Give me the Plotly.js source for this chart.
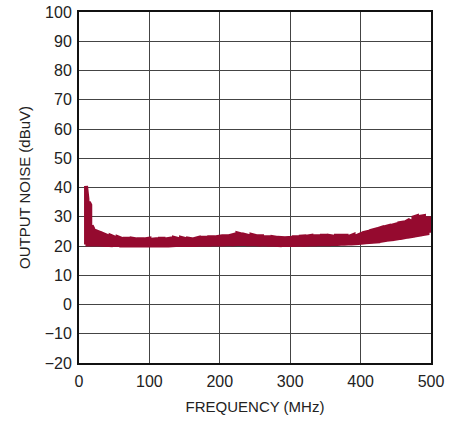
<!DOCTYPE html>
<html>
<head>
<meta charset="utf-8">
<script src="https://cdn.plot.ly/plotly-3.0.1.min.js"></script>
<style>
html,body{margin:0;padding:0;background:#fff;}
#chart{width:463px;height:421px;}
</style>
</head>
<body>
<div id="chart"></div>
<script>
// Frequency (MHz)
var freq = [10,12,14,16,18,20,25,30,35,40,45,50,55,60,65,70,75,80,85,90,95,100,105,110,115,120,125,130,135,140,145,150,155,160,165,170,175,180,185,190,195,200,205,210,215,220,225,230,235,240,245,250,255,260,265,270,275,280,285,290,295,300,305,310,315,320,325,330,335,340,345,350,355,360,365,370,375,380,385,390,395,400,405,410,415,420,425,430,435,440,445,450,455,460,465,470,475,480,485,490,495,500];
// Noise envelope, low and high (dBuV)
var noiseLow = [20.5,20.5,20.5,20.5,20.5,20.5,20.5,20.5,20.4,20.4,20.3,20.3,20.3,20.2,20.2,20.2,20.2,20.2,20.2,20.2,20.2,20.2,20.2,20.2,20.2,20.2,20.2,20.2,20.3,20.3,20.3,20.3,20.3,20.3,20.3,20.4,20.4,20.4,20.4,20.5,20.5,20.5,20.5,20.6,20.6,20.6,20.7,20.7,20.7,20.6,20.6,20.6,20.5,20.5,20.5,20.4,20.4,20.4,20.3,20.3,20.3,20.3,20.3,20.4,20.4,20.4,20.5,20.5,20.5,20.6,20.6,20.6,20.6,20.7,20.7,20.7,20.8,20.8,20.9,20.9,21.0,21.1,21.2,21.3,21.4,21.5,21.6,21.8,22.0,22.2,22.3,22.5,22.7,22.9,23.1,23.3,23.5,23.7,23.9,24.1,24.3,24.5];
var noiseHigh = [40.5,36,35,34,27,26,25,24.5,24,23.5,23.5,23,23,22.5,22.5,22.5,22.5,22.3,22.3,22.3,22.3,22.5,22.2,22.3,22.5,22.5,22.3,22.5,22.8,22.5,22.8,22.5,22.5,22.3,22.5,22.8,22.8,22.8,23,23,23,23.2,23.3,23.3,23.5,23.8,24.3,24,23.8,23.5,23.8,23.5,23.3,23.3,23,23,23,22.8,22.8,22.7,22.7,22.8,23,23,23.2,23.3,23.3,23.5,23.3,23.3,23.5,23.5,23.5,23.3,23.5,23.5,23.5,23.5,23.3,23.8,23.5,24,24.5,24.8,25.2,25.5,25.8,26.2,26.5,26.8,27,27.3,27.8,28,28.3,29,29.8,30.2,30,30.2,29.5,29.5];
var xTicks = [0,100,200,300,400,500];
var yTicks = [-20,-10,0,10,20,30,40,50,60,70,80,90,100];

var xs = [], ys = [];
for (var i = 0; i < freq.length; i++) {
  if (i % 2 === 0) { xs.push(freq[i], freq[i]); ys.push(noiseLow[i], noiseHigh[i]); }
  else { xs.push(freq[i], freq[i]); ys.push(noiseHigh[i], noiseLow[i]); }
}

var font = "'Liberation Sans',Arial,sans-serif";
var trace = {
  x: xs, y: ys, type: 'scatter', mode: 'lines',
  line: {color: '#950a2f', width: 4},
  hoverinfo: 'skip'
};
var layout = {
  width: 463, height: 421,
  margin: {l: 79, r: 32, t: 12, b: 58},
  paper_bgcolor: '#fff', plot_bgcolor: '#fff',
  showlegend: false,
  font: {family: font, size: 16, color: '#222'},
  xaxis: {
    range: [0, 500], tickvals: xTicks, ticktext: xTicks.map(String),
    showgrid: true, gridcolor: '#444', gridwidth: 1,
    zeroline: false, showline: true, linecolor: '#111', linewidth: 2, mirror: true,
    ticks: '', ticklen: 0, ticklabelstandoff: 3,
    tickfont: {family: font, size: 16, color: '#222'},
    title: {text: 'FREQUENCY (MHz)', font: {family: font, size: 15, color: '#222'}, standoff: 12}
  },
  yaxis: {
    range: [-20, 100], tickvals: yTicks, ticktext: yTicks.map(function(v){return v < 0 ? '\u2212' + Math.abs(v) : String(v);}),
    showgrid: true, gridcolor: '#444', gridwidth: 1,
    zeroline: false, showline: true, linecolor: '#111', linewidth: 2, mirror: true,
    ticks: '', ticklen: 0, ticklabelstandoff: 2,
    tickfont: {family: font, size: 16, color: '#222'},
    title: {text: 'OUTPUT NOISE (dBuV)', font: {family: font, size: 15, color: '#222'}, standoff: 10}
  }
};
Plotly.newPlot('chart', [trace], layout, {displayModeBar: false, staticPlot: true});
</script>
</body>
</html>
